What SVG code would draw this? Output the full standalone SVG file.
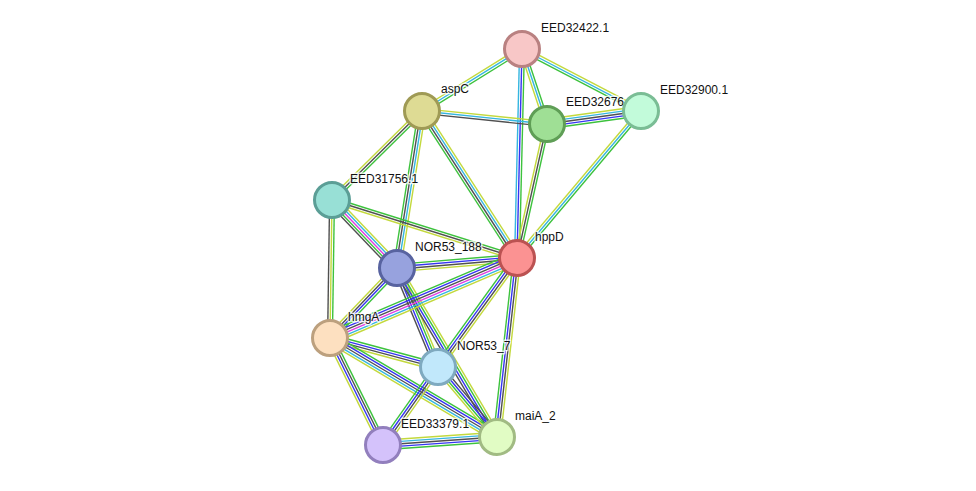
<svg xmlns="http://www.w3.org/2000/svg" width="976" height="491" viewBox="0 0 976 491">
<style>
#edges line{stroke-width:1.4;fill:none}
.y{stroke:#c3d93d}.c{stroke:#35b6e0}.g{stroke:#3dc23d}.b{stroke:#3535f2}.k{stroke:#505050}.m{stroke:#e03ee0}
.node circle{stroke-width:3}
.lbl{font-family:"Liberation Sans",Arial,sans-serif;font-size:12px;fill:#111;stroke:#fff;stroke-width:3;stroke-opacity:0.75;paint-order:stroke;stroke-linejoin:round}
</style>
<rect width="976" height="491" fill="#fff"/>
<g id="edges">
<!-- A-B -->
<g transform="translate(522 49) rotate(148.2)"><line x2="117.7" y1="-2.4" y2="-2.4" class="g"/><line x2="117.7" class="c"/><line x2="117.7" y1="2.4" y2="2.4" class="y"/></g>
<!-- A-C -->
<g transform="translate(522 49) rotate(71.57)"><line x2="79.1" y1="-2.4" y2="-2.4" class="g"/><line x2="79.1" class="c"/><line x2="79.1" y1="2.4" y2="2.4" class="y"/></g>
<!-- A-D -->
<g transform="translate(522 49) rotate(27.52)"><line x2="134.2" y1="-2.4" y2="-2.4" class="y"/><line x2="134.2" class="c"/><line x2="134.2" y1="2.4" y2="2.4" class="g"/></g>
<!-- A-G -->
<g transform="translate(522 49) rotate(91.37)"><line x2="209.1" y1="-2.4" y2="-2.4" class="g"/><line x2="209.1" class="b"/><line x2="209.1" y1="2.4" y2="2.4" class="c"/></g>
<!-- B-C -->
<g transform="translate(422 111) rotate(5.94)"><line x2="125.7" y1="-2.4" y2="-2.4" class="y"/><line x2="125.7" class="c"/><line x2="125.7" y1="2.4" y2="2.4" class="k"/></g>
<!-- C-D -->
<g transform="translate(547 124) rotate(-7.87)"><line x2="94.9" y1="-4.8" y2="-4.8" class="y"/><line x2="94.9" y1="-2.4" y2="-2.4" class="c"/><line x2="94.9" class="k"/><line x2="94.9" y1="2.4" y2="2.4" class="b"/><line x2="94.9" y1="4.8" y2="4.8" class="g"/></g>
<!-- C-G -->
<g transform="translate(547 124) rotate(102.62)"><line x2="137.3" y1="-2.4" y2="-2.4" class="g"/><line x2="137.3" class="k"/><line x2="137.3" y1="2.4" y2="2.4" class="y"/></g>
<!-- D-G -->
<g transform="translate(641 111) rotate(130.14)"><line x2="192.3" y1="-2.4" y2="-2.4" class="g"/><line x2="192.3" class="c"/><line x2="192.3" y1="2.4" y2="2.4" class="y"/></g>
<!-- B-E -->
<g transform="translate(422 111) rotate(135.32)"><line x2="126.6" y1="-2.4" y2="-2.4" class="g"/><line x2="126.6" class="k"/><line x2="126.6" y1="2.4" y2="2.4" class="y"/></g>
<!-- B-F -->
<g transform="translate(422 111) rotate(99.05)"><line x2="159" y1="-3.6" y2="-3.6" class="y"/><line x2="159" y1="-1.2" y2="-1.2" class="c"/><line x2="159" y1="1.2" y2="1.2" class="k"/><line x2="159" y1="3.6" y2="3.6" class="g"/></g>
<!-- B-G -->
<g transform="translate(422 111) rotate(57.12)"><line x2="175" y1="-3.6" y2="-3.6" class="y"/><line x2="175" y1="-1.2" y2="-1.2" class="c"/><line x2="175" y1="1.2" y2="1.2" class="k"/><line x2="175" y1="3.6" y2="3.6" class="g"/></g>
<!-- E-G -->
<g transform="translate(332 200) rotate(17.41)"><line x2="193.9" y1="-2.4" y2="-2.4" class="g"/><line x2="193.9" class="k"/><line x2="193.9" y1="2.4" y2="2.4" class="y"/></g>
<!-- E-F -->
<g transform="translate(332 200) rotate(46.3)"><line x2="94.1" y1="-4.8" y2="-4.8" class="y"/><line x2="94.1" y1="-2.4" y2="-2.4" class="c"/><line x2="94.1" class="m"/><line x2="94.1" y1="2.4" y2="2.4" class="g"/><line x2="94.1" y1="4.8" y2="4.8" class="k"/></g>
<!-- E-H -->
<g transform="translate(332 200) rotate(90.83)"><line x2="138" y1="-2.4" y2="-2.4" class="g"/><line x2="138" class="y"/><line x2="138" y1="2.4" y2="2.4" class="k"/></g>
<!-- F-G -->
<g transform="translate(397 268) rotate(-4.76)"><line x2="120.4" y1="-3.6" y2="-3.6" class="g"/><line x2="120.4" y1="-1.2" y2="-1.2" class="b"/><line x2="120.4" y1="1.2" y2="1.2" class="k"/><line x2="120.4" y1="3.6" y2="3.6" class="y"/></g>
<!-- F-H -->
<g transform="translate(397 268) rotate(133.74)"><line x2="96.9" y1="-3.6" y2="-3.6" class="g"/><line x2="96.9" y1="-1.2" y2="-1.2" class="b"/><line x2="96.9" y1="1.2" y2="1.2" class="k"/><line x2="96.9" y1="3.6" y2="3.6" class="y"/></g>
<!-- F-I -->
<g transform="translate(397 268) rotate(67.5)"><line x2="107.2" y1="-3.6" y2="-3.6" class="y"/><line x2="107.2" y1="-1.2" y2="-1.2" class="g"/><line x2="107.2" y1="1.2" y2="1.2" class="b"/><line x2="107.2" y1="3.6" y2="3.6" class="k"/></g>
<!-- F-K -->
<g transform="translate(397 268) rotate(59.39)"><line x2="196.4" y1="-3.6" y2="-3.6" class="y"/><line x2="196.4" y1="-1.2" y2="-1.2" class="g"/><line x2="196.4" y1="1.2" y2="1.2" class="b"/><line x2="196.4" y1="3.6" y2="3.6" class="k"/></g>
<!-- G-H -->
<g transform="translate(517 258) rotate(156.84)"><line x2="203.4" y1="-6" y2="-6" class="y"/><line x2="203.4" y1="-3.6" y2="-3.6" class="c"/><line x2="203.4" y1="-1.2" y2="-1.2" class="m"/><line x2="203.4" y1="1.2" y2="1.2" class="k"/><line x2="203.4" y1="3.6" y2="3.6" class="b"/><line x2="203.4" y1="6" y2="6" class="g"/></g>
<!-- G-I -->
<g transform="translate(517 258) rotate(125.93)"><line x2="134.6" y1="-3.6" y2="-3.6" class="y"/><line x2="134.6" y1="-1.2" y2="-1.2" class="k"/><line x2="134.6" y1="1.2" y2="1.2" class="b"/><line x2="134.6" y1="3.6" y2="3.6" class="g"/></g>
<!-- G-K -->
<g transform="translate(517 258) rotate(96.38)"><line x2="180.1" y1="-3.6" y2="-3.6" class="y"/><line x2="180.1" y1="-1.2" y2="-1.2" class="k"/><line x2="180.1" y1="1.2" y2="1.2" class="b"/><line x2="180.1" y1="3.6" y2="3.6" class="g"/></g>
<!-- H-I -->
<g transform="translate(330 338) rotate(15.03)"><line x2="111.8" y1="-3.6" y2="-3.6" class="g"/><line x2="111.8" y1="-1.2" y2="-1.2" class="b"/><line x2="111.8" y1="1.2" y2="1.2" class="k"/><line x2="111.8" y1="3.6" y2="3.6" class="y"/></g>
<!-- H-K -->
<g transform="translate(330 338) rotate(30.66)"><line x2="194.1" y1="-4.8" y2="-4.8" class="g"/><line x2="194.1" y1="-2.4" y2="-2.4" class="b"/><line x2="194.1" class="k"/><line x2="194.1" y1="2.4" y2="2.4" class="c"/><line x2="194.1" y1="4.8" y2="4.8" class="y"/></g>
<!-- H-J -->
<g transform="translate(330 338) rotate(63.65)"><line x2="119.4" y1="-3.6" y2="-3.6" class="g"/><line x2="119.4" y1="-1.2" y2="-1.2" class="k"/><line x2="119.4" y1="1.2" y2="1.2" class="b"/><line x2="119.4" y1="3.6" y2="3.6" class="y"/></g>
<!-- I-J -->
<g transform="translate(438 367) rotate(125.19)"><line x2="95.4" y1="-3.6" y2="-3.6" class="y"/><line x2="95.4" y1="-1.2" y2="-1.2" class="k"/><line x2="95.4" y1="1.2" y2="1.2" class="b"/><line x2="95.4" y1="3.6" y2="3.6" class="g"/></g>
<!-- I-K -->
<g transform="translate(438 367) rotate(49.88)"><line x2="91.5" y1="-3.6" y2="-3.6" class="k"/><line x2="91.5" y1="-1.2" y2="-1.2" class="b"/><line x2="91.5" y1="1.2" y2="1.2" class="g"/><line x2="91.5" y1="3.6" y2="3.6" class="y"/></g>
<!-- J-K -->
<g transform="translate(383 445) rotate(-4.01)"><line x2="114.3" y1="-4.8" y2="-4.8" class="y"/><line x2="114.3" y1="-2.4" y2="-2.4" class="c"/><line x2="114.3" class="k"/><line x2="114.3" y1="2.4" y2="2.4" class="b"/><line x2="114.3" y1="4.8" y2="4.8" class="g"/></g>
</g>
<g id="n-EED32422" class="node"><circle cx="522" cy="49" r="17.5" fill="#f8c7c7" stroke="#b98181"/><text class="lbl" x="541" y="32">EED32422.1</text></g>
<g id="n-aspC" class="node"><circle cx="422" cy="111" r="17.5" fill="#dedb94" stroke="#9f9a55"/><text class="lbl" x="441" y="93">aspC</text></g>
<g id="n-EED32676" class="node"><circle cx="547" cy="124" r="17.5" fill="#9fdf95" stroke="#5f9e56"/><text class="lbl" x="566" y="106">EED32676</text></g>
<g id="n-EED32900" class="node"><circle cx="641" cy="111" r="17.5" fill="#c2fbda" stroke="#7abd95"/><text class="lbl" x="660" y="94">EED32900.1</text></g>
<g id="n-EED31756" class="node"><circle cx="332" cy="200" r="17.5" fill="#98e0d6" stroke="#5b9e96"/><text class="lbl" x="350" y="183">EED31756.1</text></g>
<g id="n-NOR53_188" class="node"><circle cx="397" cy="268" r="17.5" fill="#97a2de" stroke="#5863a0"/><text class="lbl" x="415" y="251">NOR53_188</text></g>
<g id="n-hppD" class="node"><circle cx="517" cy="258" r="17.5" fill="#fb9292" stroke="#bb5252"/><text class="lbl" x="535" y="241">hppD</text></g>
<g id="n-hmgA" class="node"><circle cx="330" cy="338" r="17.5" fill="#fde0c0" stroke="#bca07e"/><text class="lbl" x="348" y="321">hmgA</text></g>
<g id="n-NOR53_7" class="node"><circle cx="438" cy="367" r="17.5" fill="#c1e8fb" stroke="#7faac0"/><text class="lbl" x="457" y="350">NOR53_7</text></g>
<g id="n-EED33379" class="node"><circle cx="383" cy="445" r="17.5" fill="#d4c2fb" stroke="#927fbd"/><text class="lbl" x="401" y="428">EED33379.1</text></g>
<g id="n-maiA_2" class="node"><circle cx="497" cy="437" r="17.5" fill="#e1fcc4" stroke="#a1bb83"/><text class="lbl" x="515" y="420">maiA_2</text></g>
</svg>
